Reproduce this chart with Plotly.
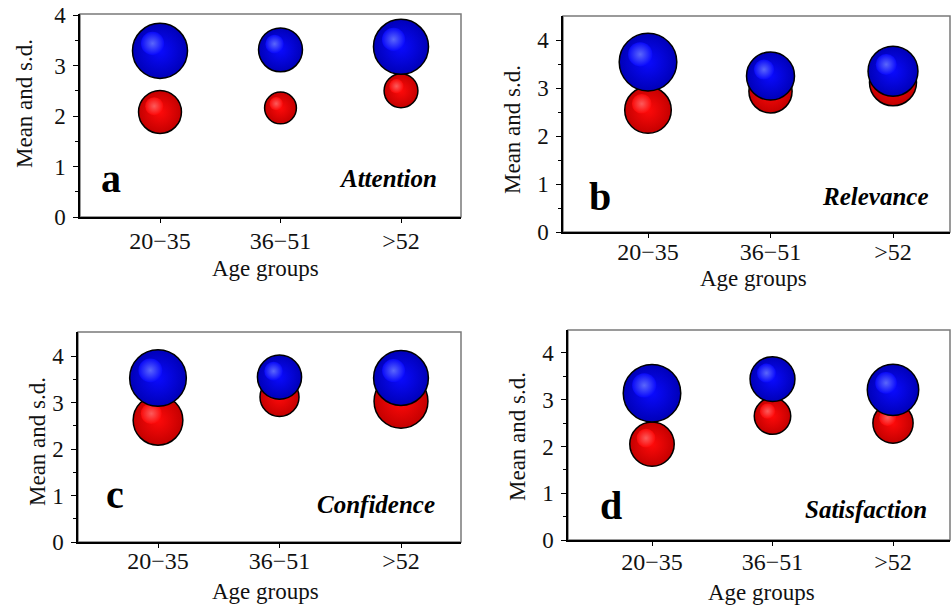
import plotly.graph_objects as go

W, H = 951, 608

groups = ["20\u221235", "36\u221251", ">52"]
group_pos = [1, 2, 3]

panel_letters = ["a", "b", "c", "d"]
panel_names = ["Attention", "Relevance", "Confidence", "Satisfaction"]

attention_blue_mean = [3.29, 3.31, 3.37]
attention_blue_sd = [1.09, 0.87, 1.09]
attention_red_mean = [2.08, 2.16, 2.50]
attention_red_sd = [0.85, 0.63, 0.67]

relevance_blue_mean = [3.54, 3.25, 3.35]
relevance_blue_sd = [1.20, 1.00, 1.04]
relevance_red_mean = [2.54, 2.93, 3.12]
relevance_red_sd = [0.97, 0.90, 0.98]

confidence_blue_mean = [3.53, 3.55, 3.53]
confidence_blue_sd = [1.22, 0.95, 1.18]
confidence_red_mean = [2.62, 3.12, 3.03]
confidence_red_sd = [1.07, 0.84, 1.16]

satisfaction_blue_mean = [3.14, 3.44, 3.21]
satisfaction_blue_sd = [1.23, 0.96, 1.10]
satisfaction_red_mean = [2.05, 2.65, 2.50]
satisfaction_red_sd = [0.95, 0.78, 0.86]

y_tick_vals = [0, 1, 2, 3, 4]
y_minor_vals = [0.5, 1.5, 2.5, 3.5]

panels_data = [
    (attention_blue_mean, attention_blue_sd, attention_red_mean, attention_red_sd),
    (relevance_blue_mean, relevance_blue_sd, relevance_red_mean, relevance_red_sd),
    (confidence_blue_mean, confidence_blue_sd, confidence_red_mean, confidence_red_sd),
    (satisfaction_blue_mean, satisfaction_blue_sd, satisfaction_red_mean, satisfaction_red_sd),
]

# layout in page pixels: box (left, right, top, bottom), first category px, category spacing px
boxes = [
    (80, 461, 14, 217),
    (563, 950, 16, 232),
    (78, 461, 332, 542),
    (568, 950, 330, 540),
]
cat1_px = [160, 648, 158, 652]
cat_step = [120.5, 122.5, 121.5, 120.5]
ymaxs = [4.02, 4.5, 4.52, 4.49]
x_label_standoff = [-3, -7, -8, -5]

letter_px = [(111, 178), (600, 196), (115, 494), (611, 505)]
name_px = [(439, 179), (931, 196), (437, 504), (929, 509)]
xtitle_px = [(265, 269), (753, 279), (265, 591), (761, 592)]
ytitle_px = [(25, 104), (513, 130), (37, 442), (517, 437)]

FONT = "Liberation Serif, Times New Roman, serif"
TXT = "#111111"

STYLE = {
    "red": dict(rim="#c40000", body="#ff0a0a", hi="#ff6a6a"),
    "blue": dict(rim="#0000b8", body="#0a0aff", hi="#6a78ff"),
}


def fx(p):
    return min(max(p / W, 0), 1)


def fy(p):
    return min(max(1 - p / H, 0), 1)


fig = go.Figure()
annotations = []
shapes = []

for i in range(4):
    l, r, t, b = boxes[i]
    n = "" if i == 0 else str(i + 1)
    xa, ya = "x" + n, "y" + n
    xr = [1 + (l - cat1_px[i]) / cat_step[i], 1 + (r - cat1_px[i]) / cat_step[i]]
    px_per_unit = (b - t) / ymaxs[i]
    bm, bsd, rm, rsd = panels_data[i]

    for mean, sd, key in [(rm, rsd, "red"), (bm, bsd, "blue")]:
        st = STYLE[key]
        diam = [s * px_per_unit for s in sd]
        fig.add_trace(go.Scatter(
            x=group_pos, y=mean, xaxis=xa, yaxis=ya, mode="markers",
            marker=dict(size=diam, sizemode="diameter", color=st["rim"],
                        gradient=dict(type="radial", color=st["body"]),
                        line=dict(color="black", width=1.5), opacity=1),
            showlegend=False, hoverinfo="skip",
        ))
        # specular highlight, up-left of each bubble centre
        hx = [g - 0.27 * (d / 2) / cat_step[i] for g, d in zip(group_pos, diam)]
        hy = [m + 0.27 * s / 2 for m, s in zip(mean, sd)]
        fig.add_trace(go.Scatter(
            x=hx, y=hy, xaxis=xa, yaxis=ya, mode="markers",
            marker=dict(size=[d * 0.42 for d in diam], sizemode="diameter",
                        color=st["body"],
                        gradient=dict(type="radial", color=st["hi"]),
                        line=dict(width=0), opacity=0.85),
            showlegend=False, hoverinfo="skip",
        ))

    fig.update_layout(**{
        ("xaxis" + n): dict(
            domain=[fx(l), fx(r)], range=xr, anchor=ya, automargin=False,
            tickmode="array", tickvals=group_pos, ticktext=groups,
            ticks="outside", ticklen=4, tickwidth=1.2, tickcolor="black",
            showline=True, linecolor="black", linewidth=1.5,
            showgrid=False, zeroline=False, ticklabeloverflow="allow",
            ticklabelstandoff=x_label_standoff[i],
            tickfont=dict(family=FONT, size=24, color=TXT),
        ),
        ("yaxis" + n): dict(
            domain=[fy(b), fy(t)], range=[0, ymaxs[i]], anchor=xa, automargin=False,
            tickmode="array", tickvals=y_tick_vals,
            ticks="outside", ticklen=5, tickwidth=1.2, tickcolor="black",
            minor=dict(tickvals=y_minor_vals, ticks="outside",
                       ticklen=3, tickcolor="black", tickwidth=1),
            showline=True, linecolor="black", linewidth=1.5,
            showgrid=False, zeroline=False, ticklabeloverflow="allow",
            ticklabelstandoff=3,
            tickfont=dict(family=FONT, size=23, color=TXT),
        ),
    })

    shapes.append(dict(type="rect", xref=xa + " domain", yref=ya + " domain",
                       x0=0, x1=1, y0=0, y1=1,
                       line=dict(color="#7a7a7a", width=1.5), layer="below"))

    annotations.append(dict(
        text="<b>" + panel_letters[i] + "</b>", xref="paper", yref="paper",
        x=fx(letter_px[i][0]), y=fy(letter_px[i][1]), xanchor="center", yanchor="middle",
        showarrow=False, font=dict(family=FONT, size=40, color="black")))
    annotations.append(dict(
        text="<b><i>" + panel_names[i] + "</i></b>", xref="paper", yref="paper",
        x=fx(name_px[i][0]), y=fy(name_px[i][1]), xanchor="right", yanchor="middle",
        showarrow=False, font=dict(family=FONT, size=25, color="black")))
    annotations.append(dict(
        text="Age groups", xref="paper", yref="paper",
        x=fx(xtitle_px[i][0]), y=fy(xtitle_px[i][1]),
        xanchor="center", yanchor="middle", showarrow=False,
        font=dict(family=FONT, size=23, color=TXT)))
    annotations.append(dict(
        text="Mean and s.d.", xref="paper", yref="paper",
        x=fx(ytitle_px[i][0]), y=fy(ytitle_px[i][1]),
        xanchor="center", yanchor="middle", textangle=-90, showarrow=False,
        font=dict(family=FONT, size=23, color=TXT)))

fig.update_layout(
    width=W, height=H, margin=dict(l=0, r=0, t=0, b=0),
    paper_bgcolor="white", plot_bgcolor="white",
    annotations=annotations, shapes=shapes,
)

# remove the page's default body margin so the figure fills the window exactly
fig.write_html("out.html", config={"displayModeBar": False},
               post_script="document.body.style.margin='0';document.body.style.overflow='hidden';")
